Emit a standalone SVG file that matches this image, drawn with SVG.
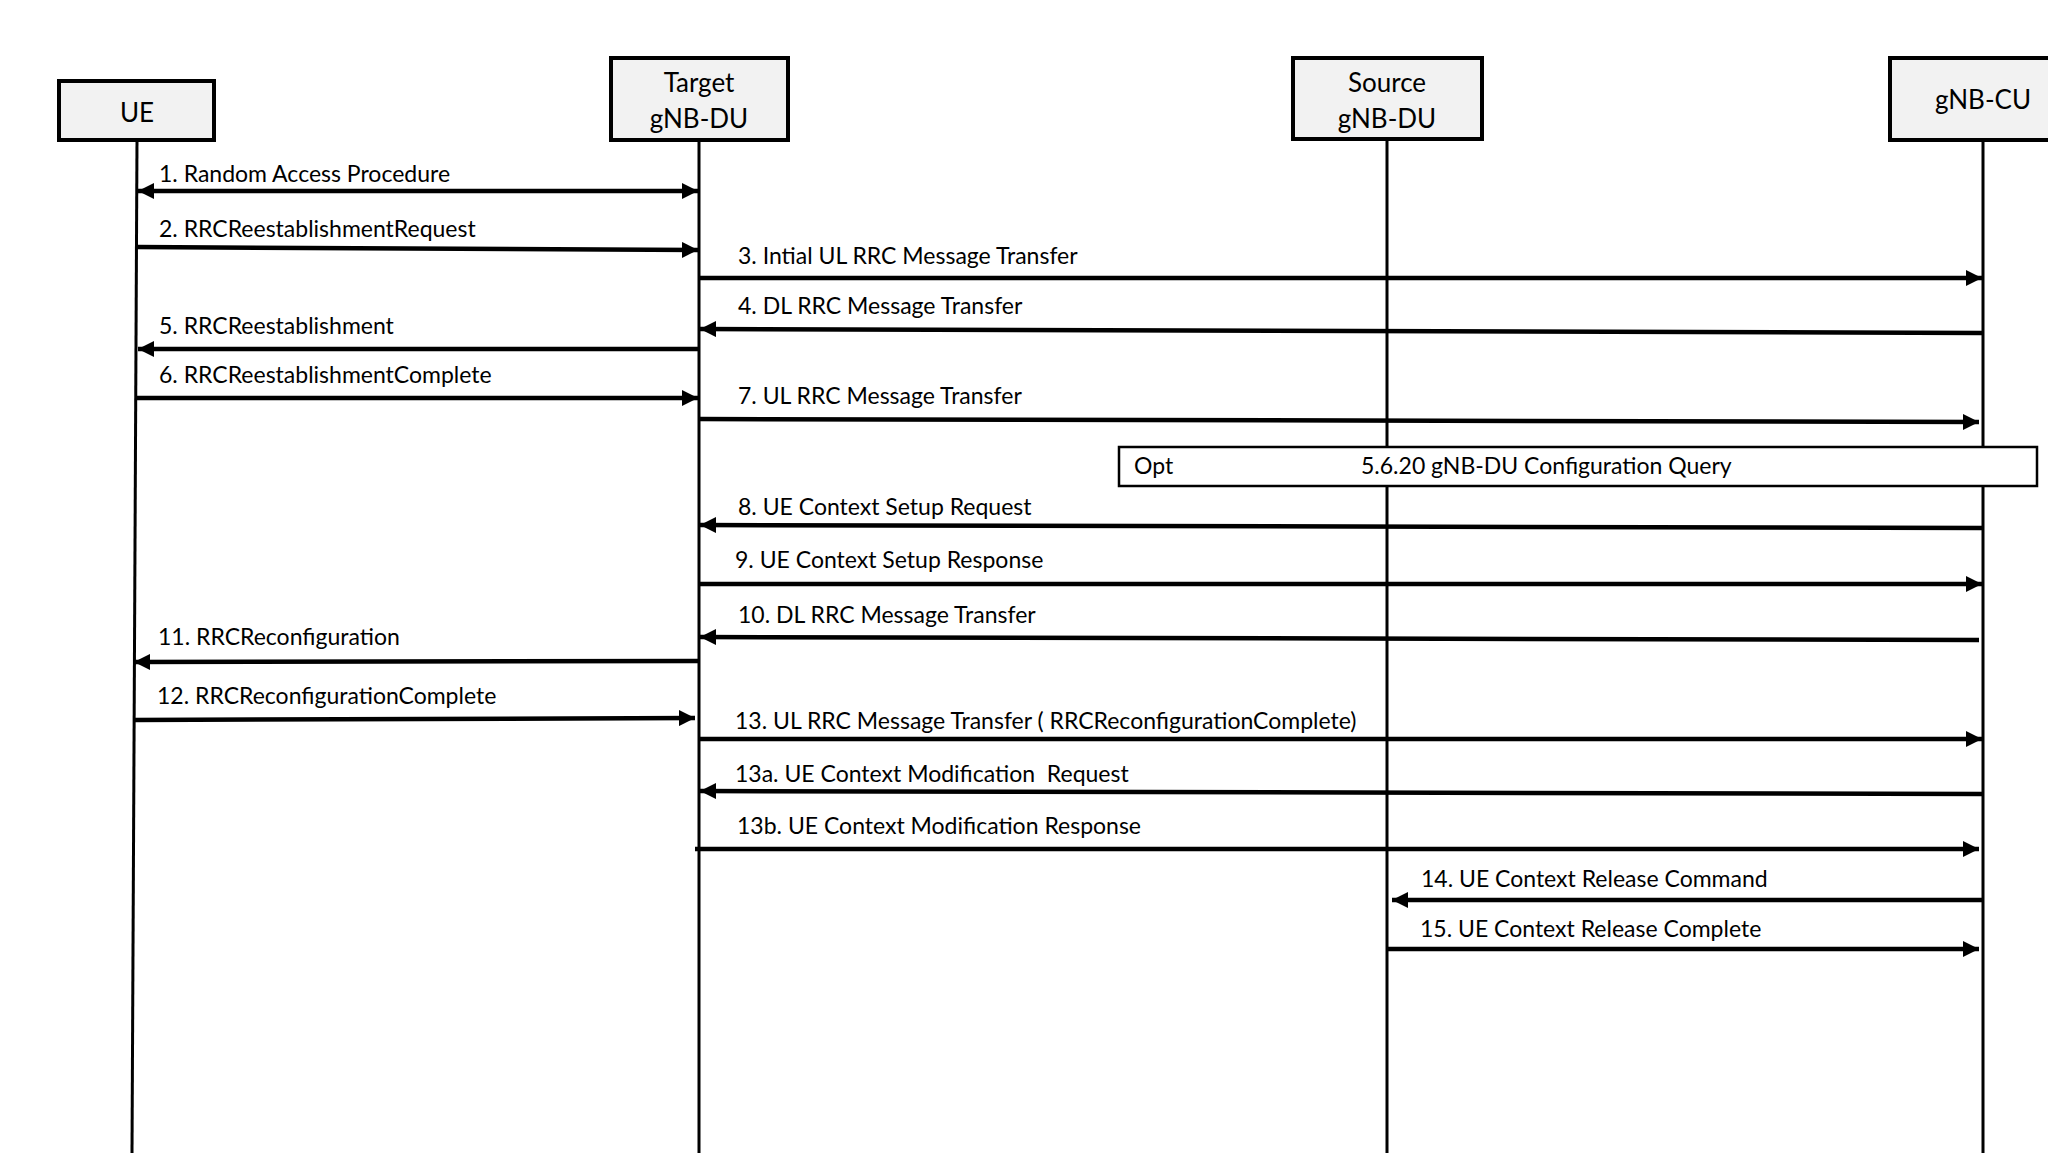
<svg xmlns="http://www.w3.org/2000/svg" width="2048" height="1153" viewBox="0 0 2048 1153">
<defs>
<marker id="ah" markerUnits="userSpaceOnUse" markerWidth="16" markerHeight="16" viewBox="0 0 14 14" refX="14" refY="7" orient="auto-start-reverse">
<path d="M0,0 L14,7 L0,14 Z" fill="#000"/>
</marker>
</defs>
<style>
.box{fill:#f2f2f2;stroke:#000;stroke-width:4}
.life{stroke:#000;stroke-width:3;fill:none}
.msg{stroke:#000;stroke-width:4.5;fill:none}
.arr{marker-end:url(#ah)}
.both{marker-start:url(#ah);marker-end:url(#ah)}
.nl{font-family:Lato,"Liberation Sans",sans-serif;font-size:26px;fill:#000;text-anchor:middle}
.ml{font-family:Lato,"Liberation Sans",sans-serif;font-size:23px;fill:#000}
.opt{fill:#fff;stroke:#000;stroke-width:2.5}
</style>
<rect width="2048" height="1153" fill="#fff"/>
<g id="lifelines">
<path class="life" d="M137,140 L132,1153"/>
<path class="life" d="M699,140 L699,1153"/>
<path class="life" d="M1387,139 L1387,1153"/>
<path class="life" d="M1983,140 L1983,1153"/>
</g>
<g id="node-ue">
<rect class="box" x="59" y="81" width="155" height="59"/>
<text class="nl" x="137" y="122">UE</text>
</g>
<g id="node-target">
<rect class="box" x="611" y="58" width="177" height="82"/>
<text class="nl" x="699" y="92">Target</text>
<text class="nl" x="699" y="128">gNB-DU</text>
</g>
<g id="node-source">
<rect class="box" x="1293" y="58" width="189" height="81"/>
<text class="nl" x="1387" y="92">Source</text>
<text class="nl" x="1387" y="128">gNB-DU</text>
</g>
<g id="node-cu">
<rect class="box" x="1890" y="58" width="170" height="82"/>
<text class="nl" x="1983" y="109">gNB-CU</text>
</g>
<g id="opt-frame">
<rect class="opt" x="1119" y="447" width="918" height="39"/>
<text class="ml" x="1134" y="474">Opt</text>
<text class="ml" x="1361" y="474">5.6.20 gNB-DU Configuration Query</text>
</g>
<g id="connectors">
<path class="msg both" d="M138,191 L698,191"/>
<path class="msg arr" d="M137,247 L698,250"/>
<path class="msg arr" d="M699,278 L1982,278"/>
<path class="msg arr" d="M1983,333 L700,329"/>
<path class="msg arr" d="M699,349 L138,349"/>
<path class="msg arr" d="M137,398 L698,398"/>
<path class="msg arr" d="M699,419 L1979,422"/>
<path class="msg arr" d="M1983,528 L700,525"/>
<path class="msg arr" d="M699,584 L1982,584"/>
<path class="msg arr" d="M1979,640 L700,637"/>
<path class="msg arr" d="M699,661 L134,662"/>
<path class="msg arr" d="M134,720 L695,718"/>
<path class="msg arr" d="M699,739 L1982,739"/>
<path class="msg arr" d="M1983,794 L700,791"/>
<path class="msg arr" d="M695,849 L1979,849"/>
<path class="msg arr" d="M1983,900 L1392,900"/>
<path class="msg arr" d="M1387,949 L1979,949"/>
</g>
<g id="labels">
<text class="ml" x="159" y="182">1. Random Access Procedure</text>
<text class="ml" x="159" y="237">2. RRCReestablishmentRequest</text>
<text class="ml" x="738" y="264">3. Intial UL RRC Message Transfer</text>
<text class="ml" x="738" y="314">4. DL RRC Message Transfer</text>
<text class="ml" x="159" y="334">5. RRCReestablishment</text>
<text class="ml" x="159" y="383">6. RRCReestablishmentComplete</text>
<text class="ml" x="738" y="404">7. UL RRC Message Transfer</text>
<text class="ml" x="738" y="515">8. UE Context Setup Request</text>
<text class="ml" x="735" y="568">9. UE Context Setup Response</text>
<text class="ml" x="738" y="623">10. DL RRC Message Transfer</text>
<text class="ml" x="158" y="645">11. RRCReconfiguration</text>
<text class="ml" x="157" y="704">12. RRCReconfigurationComplete</text>
<text class="ml" x="735" y="729">13. UL RRC Message Transfer ( RRCReconfigurationComplete)</text>
<text class="ml" x="735" y="782" xml:space="preserve">13a. UE Context Modification  Request</text>
<text class="ml" x="737" y="834">13b. UE Context Modification Response</text>
<text class="ml" x="1421" y="887">14. UE Context Release Command</text>
<text class="ml" x="1420" y="937">15. UE Context Release Complete</text>
</g>
</svg>
